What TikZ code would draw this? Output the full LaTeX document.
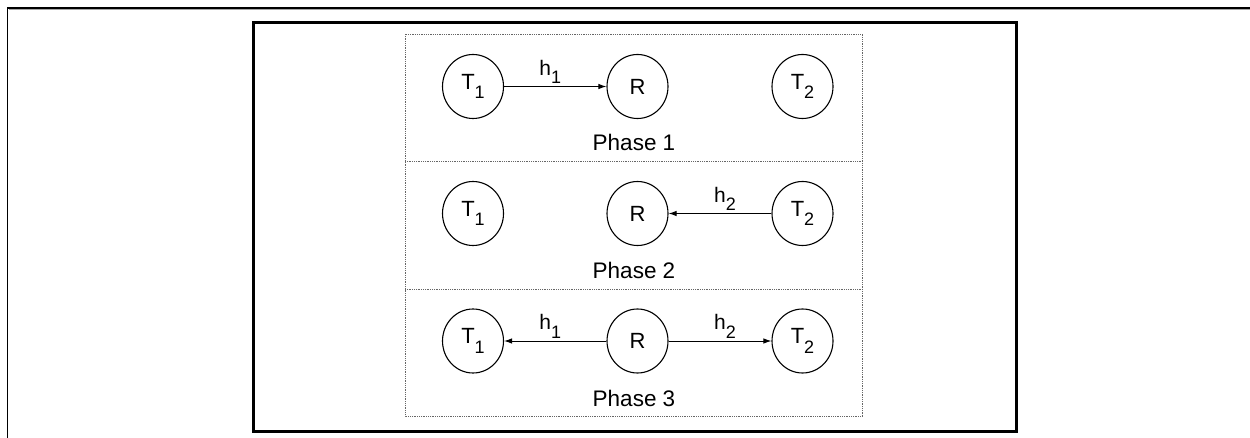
\documentclass[tikz,border=0pt]{standalone}
\usepackage{fontspec}
\setmainfont{Liberation Sans}
\usetikzlibrary{shapes.geometric,arrows.meta}
\newcommand\subx[1]{\raisebox{-0.42em}{\fontsize{18}{18}\selectfont #1}}
\tikzset{
  tnode/.style={draw, ellipse, line width=1.1pt, minimum width=61pt, minimum height=64pt, inner sep=0pt, font=\fontsize{22}{24}\selectfont},
  arr/.style={-{Latex[length=8pt,width=5.5pt]}, line width=1pt},
  hlabel/.style={font=\fontsize{21}{24}\selectfont, above=1pt, inner sep=1pt},
  phase/.style={font=\fontsize{22.5}{24}\selectfont, inner sep=0pt},
  dotbox/.style={draw=black!60, line width=0.9pt, dash pattern=on 1pt off 0.8pt}
}
\begin{document}
\begin{tikzpicture}[x=1pt,y=-1pt]
\useasboundingbox (0,0) rectangle (1250,438);
% outer frame
\draw[black!35, line width=1pt] (1250,9.8) -- (9.3,9.8);
\draw[line width=1.5pt] (7.5,438) -- (7.5,8) -- (1250,8);
% thick box
\draw[line width=3pt] (253,23) rectangle (1016,431);
% dotted box
\draw[dotbox] (405,34) rectangle (862,416);
\draw[dotbox] (405,161) -- (862,161);
\draw[dotbox] (405,289) -- (862,289);
% Phase 1
\node[tnode] (a1) at (473,86.5) {T\subx{1}};
\node[tnode] (aR) at (637.5,86.5) {R};
\node[tnode] (a2) at (802.5,86.5) {T\subx{2}};
\draw[arr] (a1) -- node[hlabel, xshift=-5pt] {h\subx{1}} (aR);
\node[phase] (p1) at (634,142) {Phase 1};
% Phase 2
\node[tnode] (b1) at (473,213.5) {T\subx{1}};
\node[tnode] (bR) at (637.5,213.5) {R};
\node[tnode] (b2) at (802.5,213.5) {T\subx{2}};
\draw[arr] (b2) -- node[hlabel, xshift=5pt] {h\subx{2}} (bR);
\node[phase] (p2) at (634,270) {Phase 2};
% Phase 3
\node[tnode] (c1) at (473,341) {T\subx{1}};
\node[tnode] (cR) at (637.5,341) {R};
\node[tnode] (c2) at (802.5,341) {T\subx{2}};
\draw[arr] (cR) -- node[hlabel, xshift=-5pt] {h\subx{1}} (c1);
\draw[arr] (cR) -- node[hlabel, xshift=5pt] {h\subx{2}} (c2);
\node[phase] (p3) at (634,398) {Phase 3};
\end{tikzpicture}
\end{document}
